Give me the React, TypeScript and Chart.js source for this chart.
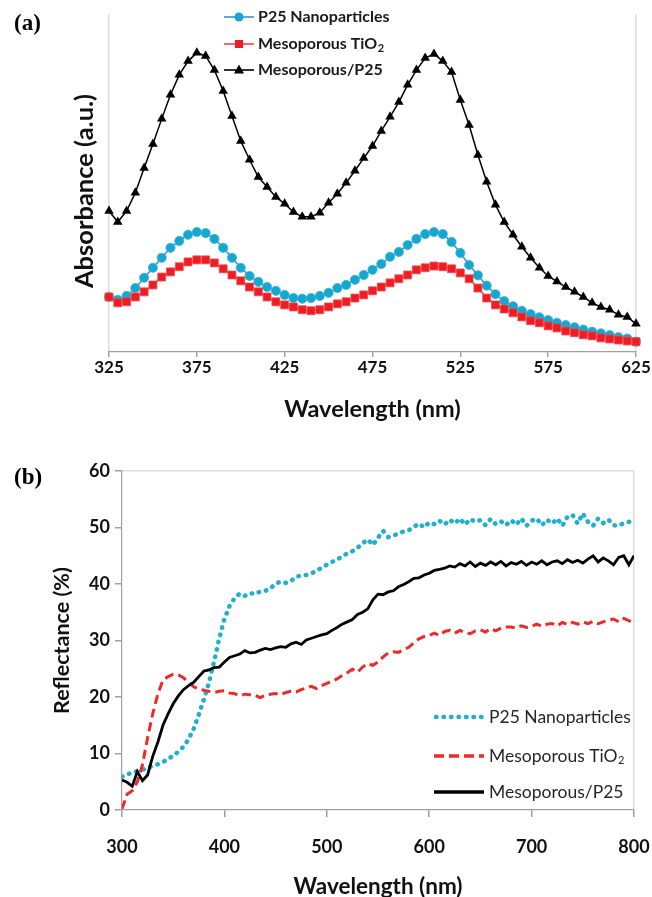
import React, { useEffect, useRef } from "react";
import { Chart, registerables } from "chart.js";
Chart.register(...registerables);

// ---------- (a) Absorbance ----------
const absWavelengths = [325, 330, 335, 340, 345, 350, 355, 360, 365, 370, 375, 380, 385, 390, 395, 400, 405, 410, 415, 420, 425, 430, 435, 440, 445, 450, 455, 460, 465, 470, 475, 480, 485, 490, 495, 500, 505, 510, 515, 520, 525, 530, 535, 540, 545, 550, 555, 560, 565, 570, 575, 580, 585, 590, 595, 600, 605, 610, 615, 620, 625];
const absTicks = [325, 375, 425, 475, 525, 575, 625];

const p25Abs = [
  0.177, 0.169, 0.180, 0.203, 0.233, 0.262, 0.291, 0.320, 0.340, 0.358,
  0.366, 0.363, 0.346, 0.320, 0.291, 0.262, 0.238, 0.221, 0.206, 0.195,
  0.183, 0.174, 0.172, 0.174, 0.180, 0.189, 0.203, 0.212, 0.227, 0.241,
  0.256, 0.273, 0.294, 0.308, 0.328, 0.346, 0.360, 0.366, 0.360, 0.337,
  0.305, 0.270, 0.240, 0.210, 0.185, 0.165, 0.150, 0.137, 0.127, 0.118,
  0.110, 0.102, 0.095, 0.089, 0.082, 0.076, 0.071, 0.066, 0.060, 0.056, 0.047,
];
const mesoAbs = [
  0.177, 0.160, 0.163, 0.177, 0.192, 0.212, 0.235, 0.250, 0.265, 0.279,
  0.285, 0.285, 0.276, 0.259, 0.241, 0.224, 0.206, 0.192, 0.177, 0.163,
  0.154, 0.148, 0.140, 0.137, 0.140, 0.148, 0.157, 0.163, 0.174, 0.183,
  0.195, 0.206, 0.218, 0.230, 0.241, 0.256, 0.262, 0.267, 0.265, 0.259,
  0.247, 0.230, 0.203, 0.174, 0.154, 0.142, 0.131, 0.119, 0.108, 0.102,
  0.093, 0.087, 0.078, 0.073, 0.067, 0.064, 0.058, 0.055, 0.052, 0.049, 0.047,
];
const compositeAbs = [
  0.427, 0.395, 0.427, 0.480, 0.552, 0.622, 0.695, 0.765, 0.823, 0.863,
  0.887, 0.878, 0.837, 0.776, 0.703, 0.631, 0.576, 0.526, 0.497, 0.468,
  0.448, 0.424, 0.410, 0.410, 0.422, 0.451, 0.477, 0.509, 0.544, 0.581,
  0.616, 0.660, 0.701, 0.744, 0.794, 0.837, 0.872, 0.884, 0.863, 0.831,
  0.750, 0.677, 0.590, 0.512, 0.445, 0.395, 0.358, 0.323, 0.291, 0.262,
  0.238, 0.222, 0.206, 0.192, 0.177, 0.160, 0.148, 0.140, 0.125, 0.119, 0.099,
];

// ---------- (b) Reflectance ----------
const reflWavelengths = [
  300, 305, 310, 315, 320, 325, 330, 335, 340, 345, 350, 355, 360, 365, 370, 375, 380, 385, 390, 395,
  400, 405, 410, 415, 420, 425, 430, 435, 440, 445, 450, 455, 460, 465, 470, 475, 480, 485, 490, 495,
  500, 505, 510, 515, 520, 525, 530, 535, 540, 545, 550, 555, 560, 565, 570, 575, 580, 585, 590, 595,
  600, 605, 610, 615, 620, 625, 630, 635, 640, 645, 650, 655, 660, 665, 670, 675, 680, 685, 690, 695,
  700, 705, 710, 715, 720, 725, 730, 735, 740, 745, 750, 755, 760, 765, 770, 775, 780, 785, 790, 795, 800,
];
const p25Refl = [
  5.9, 6.3, 6.6, 6.9, 7.1, 7.5, 7.8, 8.1, 8.5, 9.0, 9.6, 10.3, 11.2, 12.5, 14.4, 16.9, 19.6, 22.6, 26.3, 30.4,
  33.8, 36.1, 37.5, 38.3, 37.9, 38.4, 38.2, 38.7, 38.8, 39.2, 40.1, 40.4, 40.2, 40.5, 41.3, 41.5, 41.6, 41.9, 42.3, 42.9,
  43.4, 43.9, 44.3, 44.9, 45.4, 45.8, 46.4, 47.2, 47.9, 46.9, 48.2, 49.4, 48.3, 48.6, 48.9, 49.3, 49.5, 50.1, 50.7, 50.0,
  50.9, 50.6, 51.2, 50.5, 51.4, 50.7, 51.6, 50.5, 51.5, 51.0, 51.3, 50.4, 51.5, 50.6, 51.1, 50.4, 51.3, 50.5, 51.6, 50.3,
  51.2, 51.6, 50.4, 51.4, 50.7, 51.6, 50.3, 51.9, 52.2, 50.7, 52.5, 51.0, 50.3, 51.6, 50.8, 51.4, 50.4, 50.3, 50.8, 51.0, 51.2,
];
const mesoRefl = [
  0.2, 2.8, 3.4, 5.0, 8.0, 12.8, 17.0, 20.5, 23.0, 23.6, 24.0, 23.9, 23.4, 22.6, 21.8, 21.4, 21.2, 21.0, 20.8, 21.0,
  21.1, 20.7, 20.6, 20.2, 20.5, 20.4, 20.3, 19.9, 20.3, 20.5, 20.6, 20.4, 20.8, 21.0, 20.9, 21.3, 21.6, 21.9, 21.5, 22.0,
  22.4, 22.8, 23.2, 23.8, 24.3, 24.9, 24.4, 25.3, 25.9, 25.6, 26.2, 27.1, 27.8, 28.0, 27.9, 28.4, 28.8, 29.6, 30.3, 30.7,
  30.9, 31.3, 30.9, 31.6, 31.8, 31.3, 31.8, 31.4, 31.2, 31.7, 31.9, 31.5, 32.1, 31.7, 32.2, 32.4, 32.4, 32.2, 32.6, 32.3,
  32.5, 32.9, 32.5, 32.9, 33.0, 32.6, 33.2, 32.8, 33.2, 32.9, 33.3, 33.0, 33.4, 33.0, 33.3, 33.6, 33.8, 33.3, 33.9, 33.5, 33.1,
];
const compositeRefl = [
  5.3, 4.9, 4.2, 6.8, 5.2, 6.2, 9.5, 12.0, 15.0, 17.0, 18.8, 20.2, 21.3, 22.0, 22.6, 23.6, 24.6, 24.8, 25.2, 25.3,
  26.2, 27.0, 27.3, 27.6, 28.2, 27.8, 27.9, 28.3, 28.6, 28.4, 28.7, 28.9, 28.8, 29.4, 29.7, 29.3, 30.1, 30.4, 30.7, 31.0,
  31.2, 31.8, 32.3, 32.9, 33.3, 33.7, 34.6, 35.0, 35.6, 37.2, 38.2, 38.1, 38.6, 38.8, 39.5, 39.9, 40.4, 41.0, 41.1, 41.6,
  41.9, 42.4, 42.6, 42.8, 43.2, 43.0, 43.6, 43.2, 43.9, 43.1, 43.7, 43.3, 43.9, 43.4, 44.0, 43.2, 43.8, 43.5, 44.0, 43.3,
  43.9, 43.5, 44.1, 43.4, 43.9, 44.1, 43.6, 44.3, 43.8, 44.2, 43.7, 44.4, 45.0, 43.9, 44.6, 44.1, 43.4, 44.7, 45.0, 43.4, 45.0,
];

const seriesNames = ["P25 Nanoparticles", "Mesoporous TiO", "Mesoporous/P25"];
const absTitle = "Absorbance (a.u.)";

const FONT = "Lato, 'Open Sans', sans-serif";

function pts(xs: number[], ys: number[]) {
  return xs.map((x, i) => ({ x, y: ys[i] }));
}

function drawLabel(ctx: CanvasRenderingContext2D, text: string, x: number, y: number, font: string, subFont: string, sub: boolean) {
  ctx.font = font;
  ctx.textBaseline = "middle";
  ctx.textAlign = "left";
  ctx.fillText(text, x, y);
  if (sub) {
    const w = ctx.measureText(text).width;
    ctx.font = subFont;
    ctx.fillText("2", x + w + 0.5, y + 4);
  }
}

const topLegend = {
  id: "topLegend",
  afterDraw(chart: any) {
    const ctx: CanvasRenderingContext2D = chart.ctx;
    const rows = [
      { y: 17, line: "#3b8fd6", fill: "#14a7cf", m: "circle" },
      { y: 44, line: "#ff3b3b", fill: "#ee1c24", m: "rect" },
      { y: 70, line: "#000000", fill: "#000000", m: "tri" },
    ];
    ctx.save();
    rows.forEach((r, i) => {
      ctx.strokeStyle = r.line;
      ctx.lineWidth = 1.6;
      ctx.beginPath();
      ctx.moveTo(224, r.y);
      ctx.lineTo(254, r.y);
      ctx.stroke();
      ctx.fillStyle = r.fill;
      const cx = 239;
      ctx.beginPath();
      if (r.m === "circle") ctx.arc(cx, r.y, 4.5, 0, Math.PI * 2);
      else if (r.m === "rect") ctx.rect(cx - 4, r.y - 4, 8, 8);
      else {
        ctx.moveTo(cx, r.y - 5.5);
        ctx.lineTo(cx + 5, r.y + 3.5);
        ctx.lineTo(cx - 5, r.y + 3.5);
        ctx.closePath();
      }
      ctx.fill();
      ctx.fillStyle = "#1a1a1a";
      drawLabel(ctx, seriesNames[i], 258, r.y, `bold 16px ${FONT}`, `bold 11px ${FONT}`, i === 1);
    });
    ctx.translate(85, 191);
    ctx.rotate(-Math.PI / 2);
    ctx.font = `bold 25.5px ${FONT}`;
    ctx.fillStyle = "#111";
    ctx.textAlign = "center";
    ctx.textBaseline = "middle";
    ctx.fillText(absTitle, 0, 0);
    ctx.restore();
  },
};

const bottomLegend = {
  id: "bottomLegend",
  afterDraw(chart: any) {
    const ctx: CanvasRenderingContext2D = chart.ctx;
    const rows = [257, 296, 332];
    ctx.save();
    ctx.strokeStyle = "#1fb0cf";
    ctx.lineWidth = 4.5;
    ctx.lineCap = "round";
    ctx.setLineDash([0.5, 7]);
    ctx.beginPath();
    ctx.moveTo(436, rows[0]);
    ctx.lineTo(482, rows[0]);
    ctx.stroke();
    ctx.strokeStyle = "#f02828";
    ctx.lineWidth = 3.5;
    ctx.lineCap = "butt";
    ctx.setLineDash([10, 5]);
    ctx.beginPath();
    ctx.moveTo(434, rows[1]);
    ctx.lineTo(484, rows[1]);
    ctx.stroke();
    ctx.strokeStyle = "#000";
    ctx.lineWidth = 3.5;
    ctx.setLineDash([]);
    ctx.beginPath();
    ctx.moveTo(434, rows[2]);
    ctx.lineTo(484, rows[2]);
    ctx.stroke();
    ctx.fillStyle = "#262626";
    rows.forEach((y, i) => {
      drawLabel(ctx, seriesNames[i], 489, y, `17.5px ${FONT}`, `11px ${FONT}`, i === 1);
    });
    ctx.restore();
  },
};

export default function App() {
  const topRef = useRef<HTMLCanvasElement>(null);
  const botRef = useRef<HTMLCanvasElement>(null);

  useEffect(() => {
    document.body.style.margin = "0";
    const top = new Chart(topRef.current as HTMLCanvasElement, {
      type: "line",
      data: {
        datasets: [
          {
            label: "Mesoporous/P25",
            data: pts(absWavelengths, compositeAbs),
            borderColor: "#000",
            borderWidth: 1.5,
            pointStyle: "triangle",
            pointRadius: 5.5,
            pointBackgroundColor: "#000",
            pointBorderColor: "#000",
            pointBorderWidth: 0,
            clip: false,
          } as any,
          {
            label: "Mesoporous TiO2",
            data: pts(absWavelengths, mesoAbs),
            borderColor: "#ff3b3b",
            borderWidth: 1.5,
            pointStyle: "rect",
            pointRadius: 5.6,
            pointBackgroundColor: "#ee1c24",
            pointBorderColor: "#f24a4a",
            pointBorderWidth: 0.8,
            clip: false,
          },
          {
            label: "P25 Nanoparticles",
            data: pts(absWavelengths, p25Abs),
            borderColor: "#3b8fd6",
            borderWidth: 1.5,
            pointStyle: "circle",
            pointRadius: 4.6,
            pointBackgroundColor: "#14a7cf",
            pointBorderColor: "#3db3d6",
            pointBorderWidth: 0.8,
            clip: false,
          },
        ],
      },
      options: {
        animation: false,
        responsive: false,
        layout: { padding: { top: 14, right: 16, left: 0, bottom: 0 } },
        plugins: { legend: { display: false }, tooltip: { enabled: false } },
        scales: {
          x: {
            type: "linear",
            min: 325,
            max: 625,
            afterBuildTicks: (axis: any) => {
              axis.ticks = absTicks.map((v) => ({ value: v }));
            },
            ticks: {
              font: { family: FONT, size: 17, weight: "bold" },
              color: "#111",
              padding: 0,
              maxRotation: 0,
            },
            grid: {
              color: (c: any) => (c.tick && (c.tick.value === 325 || c.tick.value === 625) ? "#dcdcdc" : "rgba(0,0,0,0)"),
              tickColor: "#a0a0a0",
              tickLength: 5,
              lineWidth: 1.5,
            },
            border: { color: "#a0a0a0", width: 1.2 },
            title: {
              display: true,
              text: "Wavelength (nm)",
              font: { family: FONT, size: 23.5, weight: "bold", lineHeight: 1.2 },
              color: "#111",
              padding: { top: 0, bottom: 36 },
            },
            afterFit: (axis: any) => {
              axis.height = 108;
            },
          },
          y: {
            min: 0.017,
            max: 1,
            ticks: { display: false },
            grid: { display: false },
            border: { display: false },
            afterFit: (axis: any) => {
              axis.width = 109;
            },
          },
        },
      },
      plugins: [topLegend],
    });

    const bottom = new Chart(botRef.current as HTMLCanvasElement, {
      type: "line",
      data: {
        datasets: [
          {
            label: "Mesoporous/P25",
            data: pts(reflWavelengths, compositeRefl),
            borderColor: "#000",
            borderWidth: 2.8,
            pointRadius: 0,
          },
          {
            label: "Mesoporous TiO2",
            data: pts(reflWavelengths, mesoRefl),
            borderColor: "#f02828",
            borderWidth: 3,
            borderDash: [9, 5],
            pointRadius: 0,
          },
          {
            label: "P25 Nanoparticles",
            data: pts(reflWavelengths, p25Refl),
            borderColor: "#1fb0cf",
            borderWidth: 4.5,
            borderDash: [0.5, 7],
            borderCapStyle: "round",
            pointRadius: 0,
          },
        ],
      },
      options: {
        animation: false,
        responsive: false,
        layout: { padding: { top: 11, right: 18, left: 0, bottom: 0 } },
        plugins: { legend: { display: false }, tooltip: { enabled: false } },
        scales: {
          x: {
            type: "linear",
            min: 300,
            max: 800,
            ticks: {
              stepSize: 100,
              font: { family: FONT, size: 18, weight: "bold" },
              color: "#111",
              padding: 19,
              maxRotation: 0,
            },
            grid: {
              color: (c: any) => (c.tick && c.tick.value === 800 ? "#dcdcdc" : "rgba(0,0,0,0)"),
              tickColor: "#a0a0a0",
              tickLength: 7,
              lineWidth: 1.5,
            },
            border: { color: "#a0a0a0", width: 1.2 },
            title: {
              display: true,
              text: "Wavelength (nm)",
              font: { family: FONT, size: 22.5, weight: "bold", lineHeight: 0.9 },
              color: "#111",
              padding: { top: 0, bottom: 0 },
            },
            afterFit: (axis: any) => {
              axis.height = 87;
              axis.paddingRight = 0;
              axis.paddingLeft = 0;
            },
          },
          y: {
            min: 0,
            max: 60,
            ticks: {
              stepSize: 10,
              font: { family: FONT, size: 18, weight: "bold" },
              color: "#111",
              padding: 5,
            },
            grid: {
              color: (c: any) => (c.tick && c.tick.value === 60 ? "#dcdcdc" : "rgba(0,0,0,0)"),
              tickColor: "#a0a0a0",
              tickLength: 7,
              lineWidth: 1.5,
            },
            border: { color: "#a0a0a0", width: 1.2 },
            title: {
              display: true,
              text: "Reflectance (%)",
              font: { family: FONT, size: 21.5, weight: "bold", lineHeight: 1.2 },
              color: "#111",
              padding: { top: 49, bottom: 0 },
            },
            afterFit: (axis: any) => {
              axis.width = 122;
              axis.paddingTop = 0;
              axis.paddingBottom = 0;
            },
          },
        },
      },
      plugins: [bottomLegend],
    });

    return () => {
      top.destroy();
      bottom.destroy();
    };
  }, []);

  const panelLabel: React.CSSProperties = {
    position: "absolute",
    left: 14,
    font: "bold 23px 'Liberation Serif', 'Times New Roman', serif",
    color: "#000",
    lineHeight: "26px",
  };

  return (
    <div style={{ position: "relative", width: 652, height: 897, background: "#fff", overflow: "hidden" }}>
      <canvas ref={topRef} width={652} height={460} style={{ position: "absolute", left: 0, top: 0 }} />
      <canvas ref={botRef} width={652} height={437} style={{ position: "absolute", left: 0, top: 460 }} />
      <div style={{ ...panelLabel, top: 10 }}>(a)</div>
      <div style={{ ...panelLabel, top: 464 }}>(b)</div>
    </div>
  );
}
